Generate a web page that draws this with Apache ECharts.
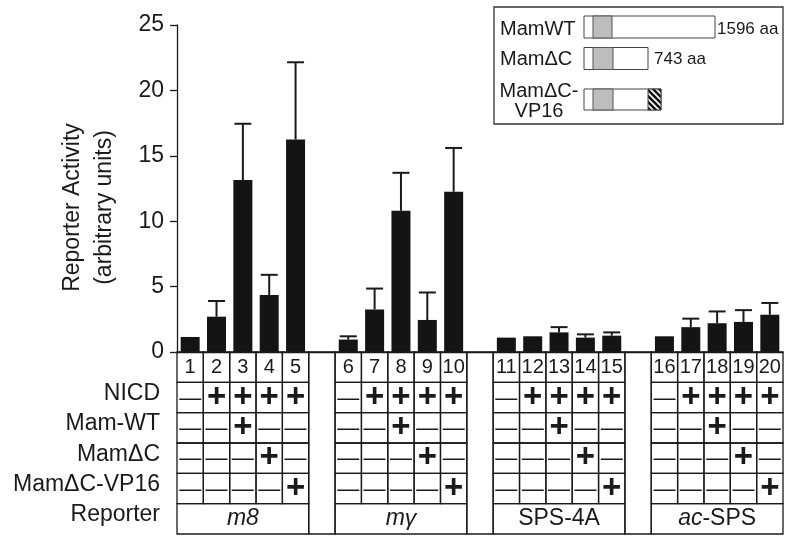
<!DOCTYPE html>
<html><head><meta charset="utf-8">
<script src="https://cdn.jsdelivr.net/npm/echarts@6/dist/echarts.min.js"></script>
<style>html,body{margin:0;padding:0;background:#fff}#c{width:790px;height:541px}</style>
</head><body><div id="c"></div>
<script>
// ---- data ----
const lanes = ['1','2','3','4','5','6','7','8','9','10','11','12','13','14','15','16','17','18','19','20'];
const reporters = ['m8', 'mγ', 'SPS-4A', 'ac-SPS'];
const activity = [1.15, 2.7, 13.15, 4.35, 16.25, 0.95, 3.25, 10.8, 2.45, 12.25, 1.1, 1.2, 1.5, 1.1, 1.25, 1.2, 1.9, 2.2, 2.3, 2.85];
const errorTop = [null, 3.9, 17.45, 5.9, 22.15, 1.2, 4.85, 13.7, 4.55, 15.6, null, null, 1.9, 1.35, 1.5, null, 2.55, 3.1, 3.2, 3.75];
const rowLabels = ['', 'NICD', 'Mam-WT', 'MamΔC', 'MamΔC-VP16', 'Reporter'];
const nicd      = [0,1,1,1,1, 0,1,1,1,1, 0,1,1,1,1, 0,1,1,1,1];
const mamWT     = [0,0,1,0,0, 0,0,1,0,0, 0,0,1,0,0, 0,0,1,0,0];
const mamDC     = [0,0,0,1,0, 0,0,0,1,0, 0,0,0,1,0, 0,0,0,1,0];
const mamDCVP16 = [0,0,0,0,1, 0,0,0,0,1, 0,0,0,0,1, 0,0,0,0,1];
const yMin = 0, yMax = 25, yStep = 5;

// ---- build ----
const colOf = i => Math.floor(i / 5) * 6 + (i % 5);
const cats = [];
for (let g = 0; g < 4; g++) {
  for (let k = 0; k < 5; k++) cats.push(lanes[g * 5 + k]);
  if (g < 3) cats.push('gap' + g);
}
const barData = cats.map(() => '-');
lanes.forEach((l, i) => { barData[colOf(i)] = activity[i]; });
const errData = [];
lanes.forEach((l, i) => { if (errorTop[i] != null) errData.push([colOf(i), activity[i], errorTop[i]]); });

const conds = [nicd, mamWT, mamDC, mamDCVP16];
const cells = [];
lanes.forEach((l, i) => {
  cells.push({kind: 'num', col: colOf(i), row: 0, text: l});
  conds.forEach((arr, r) => cells.push({kind: arr[i] ? 'plus' : 'minus', col: colOf(i), row: r + 1, text: arr[i] ? '+' : '—'}));
});
for (let g = 0; g < 3; g++) cells.push({kind: 'gap', col: g * 6 + 5, row: 0});
const repRich = ['{i|m8}', '{i|mγ}', 'SPS-4A', '{i|ac}-SPS'];
reporters.forEach((r, g) => cells.push({kind: 'rep', col: g * 6, row: 5, text: repRich[g]}));

const FONT = '"Liberation Sans", Arial, Helvetica, sans-serif';
const INK = '#1a1a1a';
const LW = 1.3;

function renderTable(params, api) {
  const cell = cells[params.dataIndex];
  const sz = api.size([1, 1]);
  const w = sz[0], h = sz[1];
  const c = api.coord([cell.col, cell.row]);
  const x0 = c[0] - w / 2, y0 = c[1] - h / 2;
  const line = {stroke: INK, lineWidth: LW, fill: null};
  if (cell.kind === 'gap') {
    return {type: 'rect', shape: {x: x0, y: y0, width: w, height: h * 6}, style: line};
  }
  if (cell.kind === 'rep') {
    return {type: 'group', children: [
      {type: 'rect', shape: {x: x0, y: y0, width: w * 5, height: h}, style: line},
      {type: 'text', x: x0 + w * 2.5, y: c[1], style: {text: cell.text, align: 'center', verticalAlign: 'middle',
        font: '23px ' + FONT, fill: INK, rich: {i: {fontStyle: 'italic', fontSize: 23, fontFamily: FONT, fill: INK}}}}
    ]};
  }
  let font = '20px ' + FONT, dy = 0;
  if (cell.kind === 'plus') font = 'bold 33px ' + FONT;
  if (cell.kind === 'minus') { font = '22px ' + FONT; dy = 1; }
  return {type: 'group', children: [
    {type: 'rect', shape: {x: x0, y: y0, width: w, height: h}, style: line},
    {type: 'text', x: c[0], y: c[1] + dy, style: {text: cell.text, align: 'center', verticalAlign: 'middle', font: font, fill: INK}}
  ]};
}

function renderErr(params, api) {
  const x = api.value(0);
  const p0 = api.coord([x, api.value(1)]);
  const p1 = api.coord([x, api.value(2)]);
  const cap = 17;
  return {type: 'group', children: [
    {type: 'line', shape: {x1: p0[0], y1: p0[1], x2: p1[0], y2: p1[1]}, style: {stroke: INK, lineWidth: 2}},
    {type: 'line', shape: {x1: p1[0] - cap / 2, y1: p1[1], x2: p1[0] + cap / 2, y2: p1[1]}, style: {stroke: INK, lineWidth: 2}}
  ]};
}

// hatch pattern for VP16 domain
const pc = document.createElement('canvas');
pc.width = 6; pc.height = 6;
const px = pc.getContext('2d');
px.fillStyle = '#fff'; px.fillRect(0, 0, 6, 6);
px.strokeStyle = '#111'; px.lineWidth = 2.6;
px.beginPath();
px.moveTo(-1, -1); px.lineTo(7, 7);
px.moveTo(-1, 5); px.lineTo(1, 7);
px.moveTo(5, -1); px.lineTo(7, 1);
px.stroke();

const boxStroke = {stroke: '#444', lineWidth: 1, fill: '#fff'};
const grayStyle = {stroke: '#555', lineWidth: 1, fill: '#bdbdbd'};
const legendText = (t, x, y, size, align) => ({type: 'text', x: x, y: y, style: {text: t, font: size + 'px ' + FONT, fill: INK, align: align || 'left', verticalAlign: 'middle', lineHeight: 20}});

const chart = echarts.init(document.getElementById('c'));
chart.setOption({
  animation: false,
  backgroundColor: '#fff',
  grid: [
    {left: 177, right: 7, top: 25, height: 327},
    {left: 177, right: 7, top: 352, height: 182}
  ],
  xAxis: [
    {type: 'category', gridIndex: 0, data: cats, boundaryGap: true,
      axisLine: {lineStyle: {color: INK, width: LW}}, axisTick: {show: false}, axisLabel: {show: false}},
    {type: 'category', gridIndex: 1, data: cats, show: false}
  ],
  yAxis: [
    {type: 'value', gridIndex: 0, min: yMin, max: yMax, interval: yStep,
      axisLine: {show: true, lineStyle: {color: INK, width: LW}},
      axisTick: {show: true, length: 7, lineStyle: {color: INK, width: LW}},
      splitLine: {show: false},
      axisLabel: {fontSize: 23, color: INK, fontFamily: FONT, margin: 13},
      name: 'Reporter Activity\n(arbitrary units)', nameLocation: 'middle', nameRotate: 90, nameGap: 56,
      nameTextStyle: {fontSize: 23, color: INK, fontFamily: FONT, lineHeight: 32, padding: [0, 38, 0, 0]}},
    {type: 'category', gridIndex: 1, data: rowLabels, inverse: true,
      axisLine: {show: false}, axisTick: {show: false},
      axisLabel: {interval: 0, fontSize: 23, color: INK, fontFamily: FONT, margin: 17, verticalAlign: 'bottom', lineHeight: 8}}
  ],
  series: [
    {type: 'bar', xAxisIndex: 0, yAxisIndex: 0, data: barData, barWidth: 19, itemStyle: {color: '#141414'}, z: 2},
    {type: 'custom', xAxisIndex: 0, yAxisIndex: 0, data: errData, renderItem: renderErr, z: 3, clip: false},
    {type: 'custom', xAxisIndex: 1, yAxisIndex: 1, data: cells.map(c => [c.col, c.row]), renderItem: renderTable, clip: false, z: 4}
  ],
  graphic: [
    {type: 'rect', shape: {x: 494, y: 7, width: 289, height: 117}, style: {stroke: '#333', lineWidth: LW, fill: '#fff'}, z: 10},
    legendText('MamWT', 500, 29, 20), 
    {type: 'rect', shape: {x: 584, y: 16, width: 131, height: 22}, style: boxStroke, z: 11},
    {type: 'rect', shape: {x: 593, y: 16, width: 19, height: 22}, style: grayStyle, z: 11},
    legendText('1596 aa', 717, 29, 17),
    legendText('MamΔC', 500, 59, 20),
    {type: 'rect', shape: {x: 584, y: 47.5, width: 64, height: 22}, style: boxStroke, z: 11},
    {type: 'rect', shape: {x: 593, y: 47.5, width: 20, height: 22}, style: grayStyle, z: 11},
    legendText('743 aa', 654, 59, 17),
    legendText('MamΔC-\nVP16', 539, 101, 20, 'center'),
    {type: 'rect', shape: {x: 584, y: 89, width: 77, height: 21}, style: boxStroke, z: 11},
    {type: 'rect', shape: {x: 593, y: 89, width: 20, height: 21}, style: grayStyle, z: 11},
    {type: 'rect', shape: {x: 648, y: 89, width: 13, height: 21}, style: {fill: {image: pc, repeat: 'repeat'}, stroke: '#444', lineWidth: 1}, z: 11}
  ].map(g => Object.assign({z: 11}, g))
});
</script></body></html>
